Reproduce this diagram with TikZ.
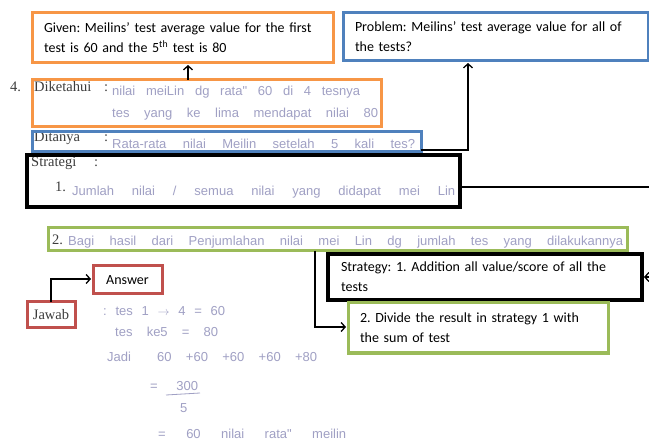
\documentclass[tikz,border=0pt]{standalone}
\usepackage{fontspec}
\setmainfont{Liberation Serif}
\newfontfamily\calib{Carlito}
\newfontfamily\hand{Liberation Sans}
\usetikzlibrary{arrows.meta}
\definecolor{orangebox}{HTML}{F79646}
\definecolor{bluebox}{HTML}{4F81BD}
\definecolor{greenbox}{HTML}{9BBB59}
\definecolor{redbox}{HTML}{C0504D}
\definecolor{pencil}{HTML}{A0A0C4}
\definecolor{printed}{HTML}{3C3C3C}
\newcommand\hw[2]{\makebox[#1pt][s]{#2}}
\frenchspacing
\begin{document}
\begin{tikzpicture}[x=1pt,y=-1pt,
  frame/.style={draw, line width=3pt, anchor=north west, inner sep=0pt, outer sep=0pt},
  note/.style={frame, font=\calib\fontsize{14}{20}\selectfont, align=left, inner xsep=12pt},
  printlbl/.style={anchor=base west, inner sep=0pt, text=printed, font=\fontsize{14.5}{16}\selectfont},
  pen/.style={anchor=base west, inner sep=0pt, text=pencil, font=\hand\fontsize{13}{15}\selectfont},
  arr/.style={-{Straight Barb[length=4pt,width=9pt]}, line width=1.3pt, shorten >=2pt}]
\useasboundingbox (0,0) rectangle (649,441);
\fill[white] (0,0) rectangle (649,441);

% --- scanned worksheet: printed labels ---
\node[printlbl] (num) at (10,92) {4.};
\node[printlbl] (lDik) at (34,92) {Diketahui};
\node[printlbl] (cDik) at (104,92) {:};
\node[printlbl] (lDit) at (34,142) {Ditanya};
\node[printlbl] (cDit) at (104,142) {:};
\node[printlbl] (lStr) at (31,167) {Strategi};
\node[printlbl] (cStr) at (94,167) {:};
\node[printlbl] (n1) at (55,192) {1.};
\node[printlbl] (n2) at (52,245) {2.};

% --- handwritten answers ---
\node[pen] (h1) at (112,96) {\hw{248}{nilai meiLin dg rata" 60 di 4 tesnya}};
\node[pen] (h2) at (112,118) {\hw{266}{tes yang ke lima mendapat nilai 80}};
\node[pen] (h3) at (112,149) {\hw{303}{Rata-rata nilai Meilin setelah 5 kali tes?}};
\node[pen] (h4) at (72,196) {\hw{383}{Jumlah nilai / semua nilai yang didapat mei Lin}};
\node[pen] (h5) at (68,246) {\hw{555}{Bagi hasil dari Penjumlahan nilai mei Lin dg jumlah tes yang dilakukannya}};
\node[pen] (h6) at (103,316) {\hw{122}{: tes 1 $\rightarrow$ 4 = 60}};
\node[pen] (h7) at (115,337) {\hw{103}{tes ke5 = 80}};
\node[pen] (h8a) at (107,362) {Jadi};
\node[pen] (h8b) at (157,362) {\hw{160}{60 +60 +60 +60 +80}};
\node[pen] (h9) at (150,391) {\hw{48}{= 300}};
\node[pen] (h10) at (180,412) {5};
\draw[pencil, line width=0.8pt] (166,395) -- (200,393);
\node[pen] (h11) at (158,438) {\hw{188}{= 60 nilai rata" meilin}};

% --- overlay frames on the worksheet ---
\node[frame, draw=orangebox, minimum width=349pt, minimum height=47pt] (dik) at (32,80) {};
\node[frame, draw=bluebox, minimum width=389pt, minimum height=20pt] (dit) at (32,132) {};
\node[frame, draw=black, line width=3.5pt, minimum width=433pt, minimum height=52pt] (strat) at (27,155) {};
\node[frame, draw=greenbox, minimum width=579pt, minimum height=23pt] (s2) at (48,228) {};
\node[frame, draw=redbox, minimum width=48pt, minimum height=26pt, text=printed,
      font=\fontsize{14.5}{16}\selectfont] (jawab) at (27,302) {Jawab};

% --- English annotations ---
\node[note, draw=orangebox, text width=277pt, minimum width=301pt, minimum height=50pt] (given) at (32,13)
  {Given: Meilins’ test average value for the first\\test is 60 and the 5\textsuperscript{th} test is 80};
\node[note, draw=bluebox, text width=281pt, minimum width=305pt, minimum height=48pt] (problem) at (343,13)
  {Problem: Meilins’ test average value for all of\\the tests?};
\node[note, draw=black, line width=3.5pt, text width=288pt, inner xsep=13pt, minimum width=312pt, minimum height=46pt] (strategy) at (328,254)
  {Strategy: 1. Addition all value/score of all the\\tests};
\node[note, draw=greenbox, text width=236pt, minimum width=260pt, minimum height=50pt] (divide) at (348,303)
  {2. Divide the result in strategy 1 with\\the sum of test};
\node[note, draw=redbox, align=center, inner xsep=0pt, text width=69pt, minimum width=69pt, minimum height=28pt] (answer) at (93,266)
  {Answer};

% --- connectors ---
\coordinate (k1) at (188,0);
\draw[arr] (dik.north -| k1) -- (given.south -| k1);
\coordinate (k2) at (468,150);
\draw[arr] (k2 -| dit.east) -- (k2) -- (problem.south -| k2);
\coordinate (k3) at (652,187);
\draw[arr] (k3 -| strat.east) -- (k3) -- (k3 |- strategy.east) -- (strategy.east);
\coordinate (k4) at (315,327);
\draw[arr] (k4 |- s2.south) -- (k4) -- (k4 -| divide.west);
\coordinate (k5) at (51,279);
\draw[arr] (k5 |- jawab.north) -- (k5) -- (k5 -| answer.west);
\end{tikzpicture}
\end{document}
